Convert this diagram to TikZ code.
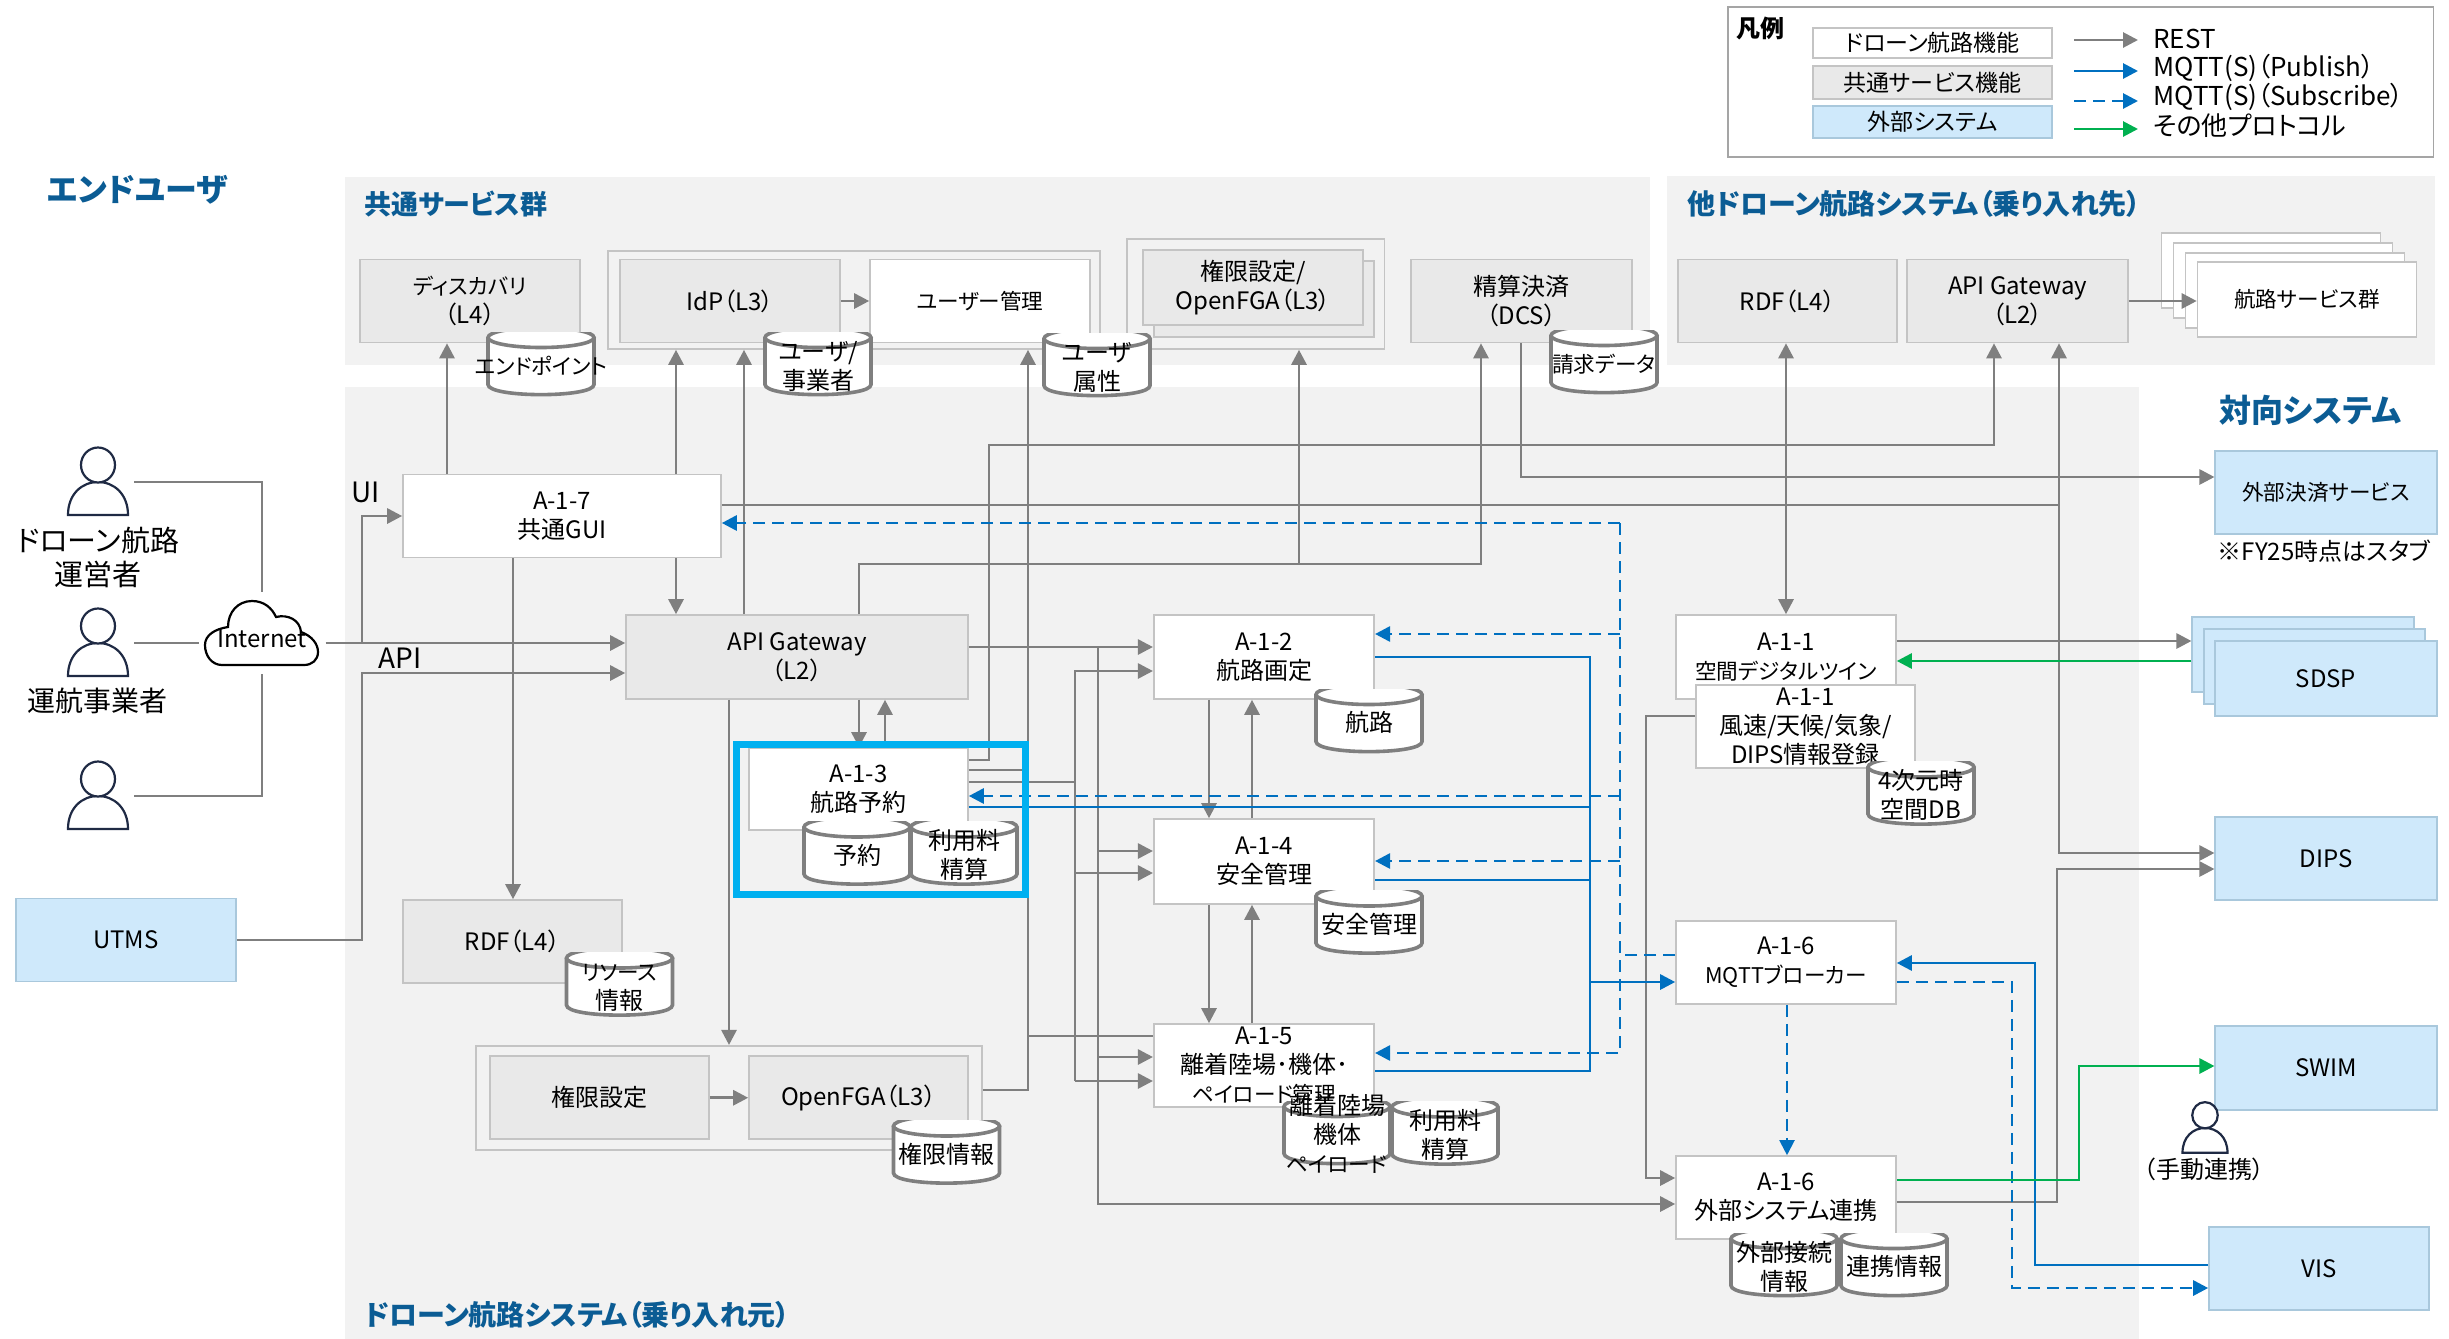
\documentclass[tikz,border=0pt]{standalone}
\usepackage{fontspec}
\setmainfont{Noto Sans CJK JP}[RawFeature=+palt]
\usepackage{xcolor}
\usepackage{tikz}
\usetikzlibrary{arrows.meta}

\definecolor{regiongray}{HTML}{F2F2F2}
\definecolor{boxgray}{HTML}{E9E9E9}
\definecolor{edgegray}{HTML}{C4C4C4}
\definecolor{linegray}{HTML}{7F7F7F}
\definecolor{extblue}{HTML}{CFE9FB}
\definecolor{extedge}{HTML}{A9C8DC}
\definecolor{titleblue}{HTML}{0B5C94}
\definecolor{mqttblue}{HTML}{0070C0}
\definecolor{otergreen}{HTML}{00B050}
\definecolor{framecyan}{HTML}{00B0F0}
\definecolor{persondark}{HTML}{1F2A44}

\newcommand{\dbtext}[1]{\raisebox{-7pt}{\makebox[0pt]{\smash{\begin{tabular}{@{}c@{}}#1\end{tabular}}}}}
\newcommand{\kana}{\fontsize{10.8}{14.5}\selectfont}

\begin{document}
\begin{tikzpicture}[
    x=0.5pt, y=-0.5pt,
    font=\fontsize{12}{14.5}\selectfont,
    region/.style={fill=regiongray, inner sep=0pt},
    box/.style={draw=edgegray, line width=0.8pt, fill=white, align=center, inner sep=0pt,
                minimum width=110pt, minimum height=41.5pt},
    svcbox/.style={box, fill=boxgray},
    extbox/.style={box, fill=extblue, draw=extedge, minimum width=110.75pt},
    grp/.style={draw=edgegray, line width=0.8pt, fill=regiongray, inner sep=0pt},
    db/.style={inner sep=0pt, minimum width=55pt, minimum height=36pt, yshift=-1.5pt,
        path picture={
            \begin{scope}[shift={(path picture bounding box.center)}]
            \draw[draw=linegray, fill=white, line width=1.8pt] (-53,-23.5) -- (-53,23.5)
                .. controls (-53,37) and (53,37) .. (53,23.5) -- (53,-23.5);
            \draw[draw=linegray, fill=white, line width=1.8pt] (0,-23.5) ellipse (53 and 10);
            \end{scope}
        }},
    title/.style={anchor=west, text=titleblue, inner sep=0pt},
    actor/.style={inner sep=0pt, minimum width=36pt, minimum height=33pt},
    person/.pic={
        \draw[draw=persondark, fill=white, line width=1.1pt] (-30,33)
            .. controls (-30,12) and (-16,0) .. (0,0)
            .. controls (16,0) and (30,12) .. (30,33) -- cycle;
        \draw[draw=persondark, fill=white, line width=1.1pt] (0,-17) ellipse (17 and 17.5);
    },
    link/.style={draw=linegray, line width=1.4pt},
    rest/.style={link, -{Triangle[length=7.5pt, width=7.5pt]}},
    publine/.style={draw=mqttblue, line width=1.4pt},
    pub/.style={publine, -{Triangle[length=7.5pt, width=7.5pt]}},
    subline/.style={publine, dash pattern=on 6pt off 3.5pt},
    sub/.style={subline, -{Triangle[length=7.5pt, width=7.5pt]}},
    oter/.style={draw=otergreen, line width=1.4pt, -{Triangle[length=7.5pt, width=7.5pt]}},
]
\useasboundingbox (0,0) rectangle (2449,1339);

% --- background regions --------------------------------------------------------
\node[region, minimum width=652.5pt, minimum height=94pt] (regcom) at (997.5,271) {};
\node[region, minimum width=384pt, minimum height=94.5pt] (regoth) at (2051,270.5) {};
\node[region, minimum width=897pt, minimum height=476pt] (regmain) at (1242,863) {};

\node[title, font=\fontsize{16}{18}\selectfont\bfseries] (tuser) at (47,190) {エンドユーザ};
\node[title, font=\fontsize{13.5}{16}\selectfont\bfseries] (tcom) at (364,204) {共通サービス群};
\node[title, font=\fontsize{14}{16}\selectfont\bfseries] (toth) at (1687,204) {他ドローン航路システム（乗り入れ先）};
\node[title, font=\fontsize{16}{18}\selectfont\bfseries] (topp) at (2219,410) {対向システム};
\node[title, font=\fontsize{14}{16}\selectfont\bfseries] (tmain) at (364,1315) {ドローン航路システム（乗り入れ元）};

% --- legend ----------------------------------------------------------------------
\node[draw=linegray!70, line width=0.8pt, minimum width=352.75pt, minimum height=75pt, inner sep=0pt] (legend) at (2080.75,82) {};
\node[font=\fontsize{12}{14}\selectfont\bfseries, inner sep=0pt] (legt) at (1760,28) {凡例};
\node[box, minimum width=119.5pt, minimum height=15pt, font=\fontsize{11.5}{13}\selectfont] (lg1) at (1932.5,43) {ドローン航路機能};
\node[svcbox, minimum width=119.5pt, minimum height=16.5pt, font=\fontsize{11.5}{13}\selectfont] (lg2) at (1932.5,82.5) {共通サービス機能};
\node[extbox, minimum width=119.5pt, minimum height=16pt, font=\fontsize{11.5}{13}\selectfont] (lg3) at (1932.5,122) {外部システム};
\node[anchor=west, inner xsep=7.5pt, inner ysep=0pt, font=\fontsize{13}{14}\selectfont] (lr1) at (2138,39) {REST};
\node[anchor=west, inner xsep=7.5pt, inner ysep=0pt, font=\fontsize{13}{14}\selectfont] (lr2) at (2138,68) {MQTT(S)（Publish）};
\node[anchor=west, inner xsep=7.5pt, inner ysep=0pt, font=\fontsize{13}{14}\selectfont] (lr3) at (2138,97) {MQTT(S)（Subscribe）};
\node[anchor=west, inner xsep=7.5pt, inner ysep=0pt, font=\fontsize{13}{14}\selectfont] (lr4) at (2138,126) {その他プロトコル};
\coordinate (lk1) at (2074,40);
\coordinate (lk2) at (2074,71);
\coordinate (lk3) at (2074,101);
\coordinate (lk4) at (2074,129);
\draw[rest] (lk1) -- (lk1 -| lr1.west);
\draw[pub] (lk2) -- (lk2 -| lr2.west);
\draw[sub] (lk3) -- (lk3 -| lr3.west);
\draw[oter] (lk4) -- (lk4 -| lr4.west);

% --- common services -------------------------------------------------------------
\node[svcbox] (disc) at (470,301) {{\kana ディスカバリ}\\（L4）};
\node[grp, minimum width=246pt, minimum height=49pt] (idpgrp) at (854,300) {};
\node[svcbox] (idp) at (730,301) {IdP（L3）};
\node[box] (umgmt) at (980,301) {{\kana ユーザー管理}};
\node[grp, minimum width=128.75pt, minimum height=55pt] (authgrp) at (1255.75,294) {};
\node[svcbox, minimum width=110.25pt, minimum height=38pt] (authb) at (1264,299) {};
\node[svcbox, minimum width=109.8pt, minimum height=37.5pt] (auth) at (1253,287.5) {権限設定/\\OpenFGA（L3）};
\node[svcbox, minimum width=110.5pt] (dcs) at (1521.5,301) {精算決済\\（DCS）};

% --- other drone route system ----------------------------------------------------
\node[svcbox, minimum width=109.5pt] (rdfo) at (1787.5,301) {RDF（L4）};
\node[svcbox, minimum width=110.5pt] (apio) at (2017.5,301) {API Gateway\\（L2）};
\node[box, minimum width=109.5pt, minimum height=37.5pt] (svc1) at (2271,270.5) {};
\node[box, minimum width=109.5pt, minimum height=37.5pt] (svc2) at (2283,280.5) {};
\node[box, minimum width=109.5pt, minimum height=37.5pt] (svc3) at (2295,290.5) {};
\node[box, minimum width=109.5pt, minimum height=37.5pt] (svc4) at (2307,299.5) {{\kana 航路サービス群}};

% --- users -----------------------------------------------------------------------
\node[actor] (u1) at (98,482) {};
\node[actor] (u2) at (98,643) {};
\node[actor] (u3) at (98,796) {};
\pic at (u1) {person};
\pic at (u2) {person};
\pic at (u3) {person};
\node[font=\fontsize{14.5}{17}\selectfont, align=center, inner sep=0pt] (u1t) at (98,557) {ドローン航路\\運営者};
\node[font=\fontsize{14}{17}\selectfont, inner sep=0pt] (u2t) at (97,701) {運航事業者};
\draw[draw=black, fill=white, line width=1.1pt] (222,665)
    .. controls (212,665) and (205,656) .. (205,645)
    .. controls (205,635) and (215,629) .. (228,627)
    .. controls (228,612) and (238,601) .. (252,601)
    .. controls (264,601) and (272,608) .. (276,617)
    .. controls (288,614) and (300,620) .. (301,632)
    .. controls (312,636) and (318,644) .. (318,652)
    .. controls (318,660) and (312,665) .. (304,665) -- cycle;
\node[inner sep=0pt, outer xsep=3.5pt, outer ysep=4.5pt, minimum width=56.5pt, minimum height=32pt] (net) at (262,633) {\raisebox{-7pt}[0pt][0pt]{Internet}};
\node[extbox, minimum width=110pt] (utms) at (126,940) {UTMS};
\node[font=\fontsize{14}{16}\selectfont, inner sep=0pt] (uilab) at (366,492) {UI};
\node[font=\fontsize{14}{16}\selectfont, inner sep=0pt] (apilab) at (400,658) {API};

% --- drone route system ----------------------------------------------------------
\node[box, minimum width=159pt, minimum height=41.5pt] (a17) at (562,516) {A-1-7\\共通GUI};
\node[svcbox, minimum width=171pt, minimum height=42pt] (apigw) at (797,657) {API Gateway\\（L2）};
\node[box, minimum width=109.5pt, minimum height=41pt] (a13) at (858.5,789) {A-1-3\\航路予約};
\node[svcbox, minimum width=109.5pt] (rdf) at (512.5,941.5) {RDF（L4）};
\node[grp, minimum width=253pt, minimum height=52.25pt] (fgagrp) at (729,1098) {};
\node[svcbox, minimum width=109.5pt] (fgaset) at (599.5,1097.75) {権限設定};
\node[svcbox, minimum width=109.5pt] (fga) at (858.5,1097.75) {OpenFGA（L3）};
\node[box, minimum width=110.25pt, minimum height=42pt] (a12) at (1264,657) {A-1-2\\航路画定};
\node[box, minimum width=110.25pt, minimum height=42.5pt] (a14) at (1264,861.5) {A-1-4\\安全管理};
\node[box, minimum width=110.25pt, minimum height=41.5pt] (a15) at (1264,1065.5) {A-1-5\\離着陸場･機体･\\{\kana ペイロード管理}};
\node[box, minimum width=110pt, minimum height=42pt] (a11) at (1786,657) {A-1-1\\{\kana 空間デジタルツイン}};
\node[box, minimum width=109.5pt, minimum height=41.5pt] (a11b) at (1805.5,726.5) {A-1-1\\風速/天候/気象/\\DIPS情報登録};
\node[box, minimum width=110pt, minimum height=41.5pt] (mqtt) at (1786,962.5) {A-1-6\\{\kana MQTTブローカー}};
\node[box, minimum width=110pt, minimum height=41.5pt] (a16) at (1786,1197.5) {A-1-6\\外部システム連携};

% --- opposite systems ------------------------------------------------------------
\node[extbox] (pay) at (2326,492.5) {{\kana 外部決済サービス}};
\node[inner sep=0pt] (paynote) at (2324,551) {※FY25時点はスタブ};
\node[extbox, minimum height=37.5pt] (sdsp1) at (2303,654.5) {};
\node[extbox, minimum height=37.5pt] (sdsp2) at (2314.5,666.5) {};
\node[extbox, minimum height=37.5pt] (sdsp3) at (2326,678.5) {SDSP};
\node[extbox] (dips) at (2326,858.5) {DIPS};
\node[extbox, minimum height=42pt] (swim) at (2326,1068) {SWIM};
\node[extbox, minimum width=110pt] (vis) at (2319,1268.5) {VIS};
\coordinate (hand) at (2205,1128);
\pic[scale=.75] at (hand) {person};
\node[inner sep=0pt] (handt) at (2204,1169) {（手動連携）};

% --- connectors: users to the system ---------------------------------------------
\draw[link] (u1.east) -| (net.north);
\draw[link] (u3.east) -| (net.south);
\draw[link] (u2.east) -- (net.west |- u2.east);
\draw[rest] (net.east |- u2.east) -- (apigw.west |- u2.east);
\draw[rest] (362,0 |- u2.east) |- (a17.west);
\draw[rest] (utms.east) -| (362,673) -- (apigw.west |- 0,673);

% --- connectors: REST ------------------------------------------------------------
\draw[rest] (447,0 |- a17.north) -- (447,0 |- disc.south);
\draw[rest] (676,0 |- a17.north) -- (676,0 |- idpgrp.south);
\draw[rest] (676,0 |- a17.south) -- (676,0 |- apigw.north);
\draw[rest] (513,0 |- a17.south) -- (513,0 |- rdf.north);
\draw[rest] (744,0 |- apigw.north) -- (744,0 |- idpgrp.south);
\draw[rest] (a17.east |- 0,505) -- (2059,505) -- (2059,0 |- apio.south);
\draw[rest] (2059,505) |- (dips.west |- 0,853);
\draw[rest] (859,0 |- apigw.south) -- (859,0 |- a13.north);
\draw[rest] (885,0 |- a13.north) -- (885,0 |- apigw.south);
\draw[rest] (729,0 |- apigw.south) -- (729,0 |- fgagrp.north);
\draw[rest] (859,0 |- apigw.north) |- (1481,564) -- (1481,0 |- dcs.south);
\draw[rest] (1299,564) -- (1299,0 |- authgrp.south);
\draw[rest] (1521,0 |- dcs.south) |- (pay.west |- 0,477);
\draw[rest, {Triangle[length=7.5pt, width=7.5pt]}-{Triangle[length=7.5pt, width=7.5pt]}] (1786,0 |- rdfo.south) -- (1786,0 |- a11.north);
\draw[rest] (apio.east) -- (svc4.west |- apio.east);
\draw[rest] (idp.east) -- (umgmt.west);
\draw[rest] (fgaset.east) -- (fga.west);
\draw[rest] (fgagrp.east |- 0,1090) -| (1028,0 |- idpgrp.south);
\draw[link] (a15.west |- 0,1036) -- (1028,1036);
\draw[link] (a13.east |- 0,770) -- (1028,770);
\draw[rest] (a13.east |- 0,760) -- (989,760) |- (1994,445) -- (1994,0 |- apio.south);
\draw[rest] (apigw.east |- 0,647) -- (a12.west |- 0,647);
\draw[rest] (1098,647) |- (a16.west |- 0,1204);
\draw[rest] (1098,851) -- (a14.west |- 0,851);
\draw[rest] (1098,1057) -- (a15.west |- 0,1057);
\draw[link] (a13.east |- 0,782) -- (1075,782);
\draw[rest] (1075,1081) |- (a12.west |- 0,671);
\draw[rest] (1075,1081) -- (a15.west |- 0,1081);
\draw[rest] (1075,873) -- (a14.west |- 0,873);
\draw[rest] (1209,0 |- a12.south) -- (1209,0 |- a14.north);
\draw[rest] (1252,0 |- a14.north) -- (1252,0 |- a12.south);
\draw[rest] (1209,0 |- a14.south) -- (1209,0 |- a15.north);
\draw[rest] (1252,0 |- a15.north) -- (1252,0 |- a14.south);
\draw[rest] (a11.east |- 0,641) -- (sdsp1.west |- 0,641);
\draw[rest] (a11b.west |- 0,716) -- (1646,716) |- (a16.west |- 0,1178);
\draw[rest] (a16.east |- 0,1202) -- (2057,1202) |- (dips.west |- 0,869);

% --- connectors: MQTT and other protocols ----------------------------------------
\draw[sub] (1620,523) -- (a17.east |- 0,523);
\draw[sub] (1620,523) |- (a15.east |- 0,1053);
\draw[sub] (1620,634) -- (a12.east |- 0,634);
\draw[sub] (1620,796) -- (a13.east |- 0,796);
\draw[sub] (1620,861) -- (a14.east |- 0,861);
\draw[subline] (mqtt.west |- 0,955) -- (1620,955);
\draw[publine] (a12.east |- 0,657) -- (1590,657) |- (a15.east |- 0,1071);
\draw[publine] (a13.east |- 0,807) -- (1590,807);
\draw[publine] (a14.east |- 0,880) -- (1590,880);
\draw[pub] (1590,982) -- (mqtt.west |- 0,982);
\draw[sub, line width=1pt] (1787,0 |- mqtt.south) -- (1787,0 |- a16.north);
\draw[sub] (mqtt.east |- 0,982) -- (2012,982) |- (vis.west |- 0,1288);
\draw[pub] (vis.west |- 0,1265) -- (2035,1265) |- (mqtt.east |- 0,963);
\draw[oter] (sdsp1.west |- 0,661) -- (a11.east |- 0,661);
\draw[oter] (a16.east |- 0,1180) -- (2079,1180) |- (swim.west |- 0,1066);

% --- selected function frame -----------------------------------------------------
\node[draw=framecyan, line width=3.5pt, minimum width=144.5pt, minimum height=75pt, inner sep=0pt] (sel) at (880.5,819) {};

% --- data stores -----------------------------------------------------------------
\node[db] (dbep) at (541,365) {\dbtext{\kana エンドポイント}};
\node[db] (dbuser) at (818,365) {\dbtext{ユーザ/\\事業者}};
\node[db] (dbattr) at (1097,366) {\dbtext{ユーザ\\属性}};
\node[db] (dbbill) at (1604,363) {\dbtext{\kana 請求データ}};
\node[db] (dbres) at (857,854.5) {\dbtext{予約}};
\node[db] (dbfee) at (964,854.5) {\dbtext{利用料\\精算}};
\node[db] (dbrsc) at (619.5,985.5) {\dbtext{{\kana リソース}\\情報}};
\node[db] (dbauth) at (946.5,1153.5) {\dbtext{権限情報}};
\node[db] (dbrt) at (1369,722) {\dbtext{航路}};
\node[db] (dbsafe) at (1369,923.5) {\dbtext{安全管理}};
\node[db] (dbport) at (1337,1134) {\dbtext{離着陸場\\機体\\{\kana ペイロード}}};
\node[db] (dbfee2) at (1445,1134.5) {\dbtext{利用料\\精算}};
\node[db] (db4d) at (1921,794.5) {\dbtext{4次元時\\空間DB}};
\node[db] (dbext) at (1784,1266) {\dbtext{外部接続\\情報}};
\node[db] (dblink) at (1894,1266) {\dbtext{連携情報}};

\end{tikzpicture}
\end{document}
